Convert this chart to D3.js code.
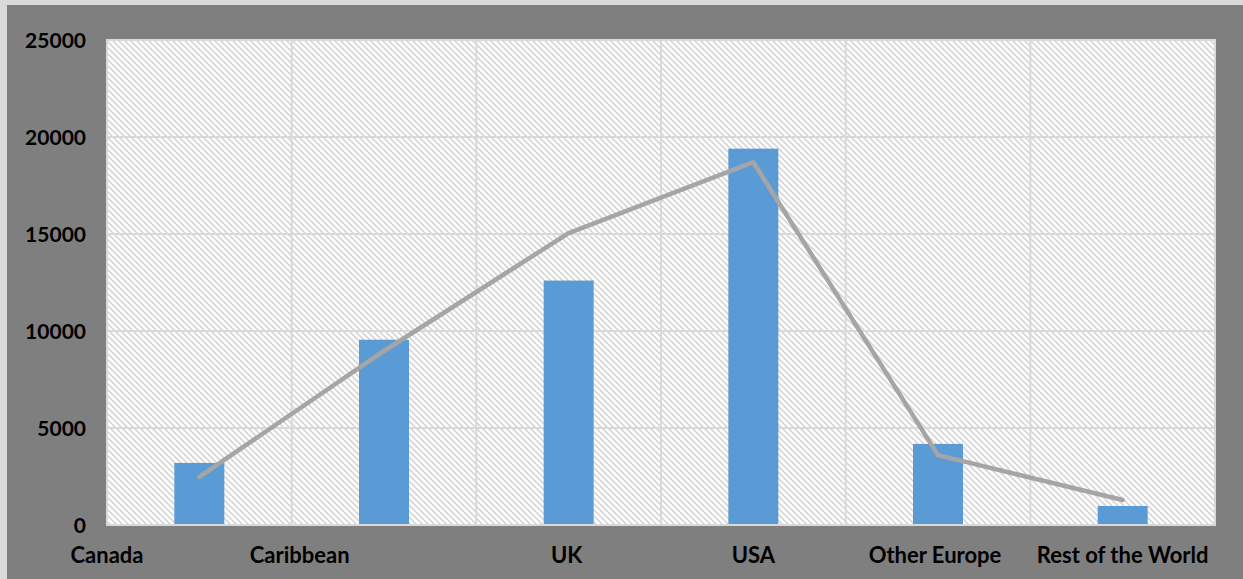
<!DOCTYPE html>
<html>
<head>
<meta charset="utf-8">
<script src="https://cdn.jsdelivr.net/npm/d3@7/dist/d3.min.js"></script>
<style>
  html, body { margin: 0; padding: 0; background: #d9d9d9; }
  svg { display: block; }
</style>
</head>
<body>
<svg id="chart" width="1243" height="579"></svg>
<script>
// Regions of origin
const categories = ["Canada", "Caribbean", "UK", "USA", "Other Europe", "Rest of the World"];
// Bar series
const barValues = [3200, 9550, 12600, 19400, 4180, 980];
// Line series
const lineValues = [2480, 8970, 15050, 18700, 3600, 1290];
// Value axis ticks
const yTicks = [0, 5000, 10000, 15000, 20000, 25000];

const W = 1243, H = 579;
const plot = { left: 107, right: 1215, top: 40, bottom: 525 };

const svg = d3.select("#chart");

// Outer frame: thin light edge, dark grey chart area
svg.append("rect").attr("x", 0).attr("y", 0).attr("width", W).attr("height", H).attr("fill", "#d9d9d9");
svg.append("rect").attr("x", 7).attr("y", 5).attr("width", W - 7).attr("height", H - 5).attr("fill", "#7f7f7f");

// Diagonal hatch fill for the plot area
const defs = svg.append("defs");
const pat = defs.append("pattern")
  .attr("id", "hatch")
  .attr("patternUnits", "userSpaceOnUse")
  .attr("width", 6).attr("height", 6);
pat.append("rect").attr("width", 6).attr("height", 6).attr("fill", "#ffffff");
pat.append("path")
  .attr("d", "M0,0 L6,6 M-3,3 L3,9 M3,-3 L9,3")
  .attr("stroke", "#d6d6d6").attr("stroke-width", 1.6);

const x = d3.scaleBand().domain(categories).range([plot.left, plot.right]).paddingInner(0).paddingOuter(0);
const y = d3.scaleLinear().domain([0, 25000]).range([plot.bottom, plot.top]);

svg.append("rect")
  .attr("x", plot.left).attr("y", plot.top)
  .attr("width", plot.right - plot.left).attr("height", plot.bottom - plot.top)
  .attr("fill", "url(#hatch)");

// Horizontal gridlines
svg.append("g").selectAll("line").data(yTicks).join("line")
  .attr("x1", plot.left).attr("x2", plot.right)
  .attr("y1", d => y(d)).attr("y2", d => y(d))
  .attr("stroke", "#d9d9d9").attr("stroke-width", 2);

// Vertical category gridlines
const edges = categories.map(c => x(c)).concat([plot.right]);
svg.append("g").selectAll("line").data(edges).join("line")
  .attr("x1", d => d).attr("x2", d => d)
  .attr("y1", plot.top).attr("y2", plot.bottom)
  .attr("stroke", "#d9d9d9").attr("stroke-width", 2);

// Plot border
svg.append("rect")
  .attr("x", plot.left).attr("y", plot.top)
  .attr("width", plot.right - plot.left).attr("height", plot.bottom - plot.top)
  .attr("fill", "none").attr("stroke", "#d9d9d9").attr("stroke-width", 2);

// Bars
const barW = 50;
svg.append("g").selectAll("rect").data(barValues).join("rect")
  .attr("x", (d, i) => x(categories[i]) + x.bandwidth() / 2 - barW / 2)
  .attr("y", d => y(d))
  .attr("width", barW)
  .attr("height", d => y(0) - y(d))
  .attr("fill", "#5b9bd5");

// Axis baseline
svg.append("line")
  .attr("x1", plot.left).attr("x2", plot.right)
  .attr("y1", y(0)).attr("y2", y(0))
  .attr("stroke", "#d9d9d9").attr("stroke-width", 2);

// Line series
const line = d3.line()
  .x((d, i) => x(categories[i]) + x.bandwidth() / 2)
  .y(d => y(d));
svg.append("path")
  .datum(lineValues)
  .attr("d", line)
  .attr("fill", "none")
  .attr("stroke", "#a5a5a5")
  .attr("stroke-width", 4.5)
  .attr("stroke-linecap", "round")
  .attr("stroke-linejoin", "round");

const font = "Lato, 'Open Sans', sans-serif";

// Value axis labels
const yAxis = d3.axisLeft(y).tickValues(yTicks).tickSize(0).tickPadding(0).tickFormat(d3.format("d"));
const yg = svg.append("g").attr("transform", `translate(86,0)`).call(yAxis);
yg.select(".domain").remove();
yg.selectAll("text")
  .attr("font-family", font).attr("font-weight", "bold").attr("font-size", 21)
  .attr("fill", "#000").attr("dy", "0.36em");

// Category labels; the first two sit nearer the left edge of their band
const labelShift = [-x.bandwidth() / 2, -x.bandwidth() / 2 + 8, -2, 0, -3, 0];
svg.append("g").selectAll("text").data(categories).join("text")
  .attr("x", (d, i) => x(d) + x.bandwidth() / 2 + labelShift[i])
  .attr("y", 563)
  .attr("text-anchor", "middle")
  .attr("font-family", font).attr("font-weight", "bold").attr("font-size", 22)
  .attr("fill", "#000")
  .text(d => d);
</script>
</body>
</html>
